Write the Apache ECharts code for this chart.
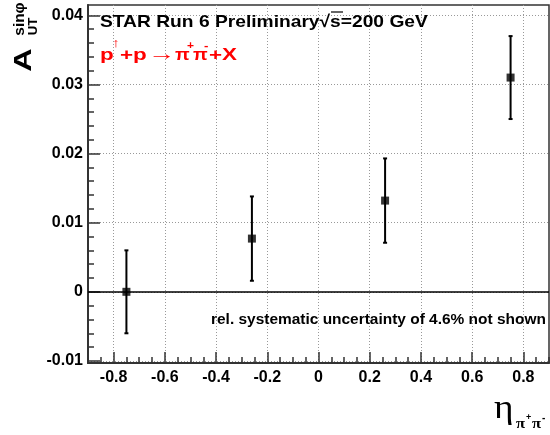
<!DOCTYPE html>
<html><head><meta charset="utf-8">
<script src="https://cdn.jsdelivr.net/npm/echarts@6/dist/echarts.min.js"></script>
<style>html,body{margin:0;padding:0;background:#fff}#c{width:550px;height:435px}</style>
</head><body><div id="c"></div>
<script>
// ---- data ----
const etaValues = [-0.75, -0.26, 0.26, 0.75];
const asymValues = [0.0, 0.0077, 0.0132, 0.0310];
const asymErrors = [0.0060, 0.0061, 0.0061, 0.0060];
const xMajorTicks = [-0.8, -0.6, -0.4, -0.2, 0, 0.2, 0.4, 0.6, 0.8];
const yMajorTicks = [-0.01, 0, 0.01, 0.02, 0.03, 0.04];
const yMinorTicks = [-0.01, -0.008, -0.006, -0.004, -0.002, 0, 0.002, 0.004, 0.006, 0.008,
  0.01, 0.012, 0.014, 0.016, 0.018, 0.02, 0.022, 0.024, 0.026, 0.028,
  0.03, 0.032, 0.034, 0.036, 0.038, 0.04];
const xRange = [-0.9, 0.9];
const yRange = [-0.0103, 0.0415];
const titleText = 'STAR Run 6 Preliminary\u221As=200 GeV';
const noteText = 'rel. systematic uncertainty of 4.6% not shown';

const FONT = '"Liberation Sans", Arial, sans-serif';
const SERIF = '"Liberation Serif", "DejaVu Serif", serif';
const frameColor = '#333';

const chart = echarts.init(document.getElementById('c'), null, {renderer: 'canvas'});

function renderErrorBar(params, api) {
  const x = api.value(0), lo = api.value(1), hi = api.value(2);
  const p1 = api.coord([x, hi]), p2 = api.coord([x, lo]);
  const cap = 2;
  const style = {stroke: '#000', lineWidth: 2};
  return {type: 'group', children: [
    {type: 'line', shape: {x1: p1[0], y1: p1[1], x2: p2[0], y2: p2[1]}, style: style},
    {type: 'line', shape: {x1: p1[0] - cap, y1: p1[1], x2: p1[0] + cap, y2: p1[1]}, style: style},
    {type: 'line', shape: {x1: p2[0] - cap, y1: p2[1], x2: p2[0] + cap, y2: p2[1]}, style: style}
  ]};
}

const labelStyle = {fontFamily: FONT, fontWeight: 'bold', fontSize: 16, color: '#000'};

function txt(text, x, y, size, opts) {
  opts = opts || {};
  return {
    type: 'text', x: x, y: y, scaleX: opts.sx || 1, z: 100,
    style: {
      text: text, fill: opts.color || '#000',
      fontFamily: opts.family || FONT, fontWeight: opts.weight || 'bold', fontSize: size,
      align: opts.align || 'left', verticalAlign: 'middle'
    }
  };
}

const red = {color: '#ff0000', sx: 1.4};
const redSup = {color: '#ff0000', sx: 1.2};

const option = {
  animation: false,
  backgroundColor: '#fff',
  grid: {left: 88, right: 1, top: 5, bottom: 72, show: true, borderColor: frameColor,
    borderWidth: 1.5, containLabel: false, outerBoundsMode: 'none'},
  xAxis: [
    {type: 'value', min: xRange[0], max: xRange[1], interval: 0.05, position: 'bottom',
      axisLine: {show: true, onZero: false, lineStyle: {color: frameColor, width: 2}},
      axisTick: {show: true, inside: true, length: 6, lineStyle: {color: frameColor, width: 1.5}},
      axisLabel: {show: false}, splitLine: {show: false}},
    {type: 'value', min: xRange[0], max: xRange[1], interval: 0.05, position: 'bottom',
      axisLine: {show: false, onZero: false},
      axisTick: {show: true, inside: true, length: 11, customValues: xMajorTicks,
        lineStyle: {color: frameColor, width: 1.5}},
      axisLabel: Object.assign({show: true, margin: 7, customValues: xMajorTicks}, labelStyle),
      splitLine: {show: true, lineStyle: {color: '#999', width: 1, type: [1, 2]}}}
  ],
  yAxis: [
    {type: 'value', min: yRange[0], max: yRange[1], position: 'left',
      axisLine: {show: true, onZero: false, lineStyle: {color: frameColor, width: 2}},
      axisTick: {show: true, inside: true, length: 6, customValues: yMinorTicks,
        lineStyle: {color: frameColor, width: 1.5}},
      axisLabel: {show: false}, splitLine: {show: false}},
    {type: 'value', min: yRange[0], max: yRange[1], position: 'left',
      axisLine: {show: false, onZero: false},
      axisTick: {show: true, inside: true, length: 12, customValues: yMajorTicks,
        lineStyle: {color: frameColor, width: 1.5}},
      axisLabel: Object.assign({show: true, margin: 5, customValues: yMajorTicks}, labelStyle),
      splitLine: {show: true, lineStyle: {color: '#999', width: 1, type: [1, 2]}}}
  ],
  series: [
    {type: 'custom', xAxisIndex: 0, yAxisIndex: 0, renderItem: renderErrorBar, z: 5,
      encode: {x: 0, y: [1, 2]},
      data: etaValues.map((x, i) => [x, asymValues[i] - asymErrors[i], asymValues[i] + asymErrors[i]])},
    {type: 'scatter', xAxisIndex: 0, yAxisIndex: 0, symbol: 'rect', symbolSize: 8, z: 6,
      itemStyle: {color: '#000'},
      data: etaValues.map((x, i) => [x, asymValues[i]]),
      markLine: {silent: true, symbol: 'none', label: {show: false},
        lineStyle: {color: '#000', width: 1.5, type: 'solid'},
        data: [{yAxis: 0}]}}
  ],
  graphic: [
    txt(titleText, 100, 22, 17, {sx: 1.13}),
    {type: 'line', z: 100, shape: {x1: 331, y1: 12, x2: 343, y2: 12}, style: {stroke: '#000', lineWidth: 1.2}},
    // red reaction text
    txt('p', 100, 56, 16, red),
    txt('\u2191', 112, 43, 13, redSup),
    txt('+p', 120, 56, 16, red),
    txt('\u2192', 148, 55, 19, {color: '#ff0000', weight: 'normal', sx: 1.45}),
    txt('\u03C0', 175, 56, 16, {color: '#ff0000', sx: 1.2}),
    txt('+', 187, 46, 10, redSup),
    txt('\u03C0', 193, 56, 16, {color: '#ff0000', sx: 1.2}),
    txt('-', 204, 46, 11, redSup),
    txt('+X', 209, 56, 16, red),
    // note
    txt(noteText, 211, 320, 15, {sx: 1.03}),
    // y-axis title (rotated)
    {type: 'group', x: 0, y: 0, rotation: Math.PI / 2, children: [
      {type: 'text', x: -60, y: 24.5, scaleX: 1.35,
        style: {text: 'A', fontFamily: FONT, fontWeight: 'bold', fontSize: 24, fill: '#000',
          align: 'center', verticalAlign: 'middle'}},
      {type: 'text', x: -19, y: 20.5, scaleX: 1.1,
        style: {text: 'sin\u03C6', fontFamily: FONT, fontWeight: 'bold', fontSize: 14, fill: '#000',
          align: 'center', verticalAlign: 'middle'}},
      {type: 'text', x: -26.5, y: 33.5, scaleX: 1.1,
        style: {text: 'UT', fontFamily: FONT, fontWeight: 'bold', fontSize: 12, fill: '#000',
          align: 'center', verticalAlign: 'middle'}}
    ]},
    // x-axis title
    txt('\u03B7', 494, 409, 34, {family: SERIF, weight: 'normal', sx: 1.1}),
    txt('\u03C0', 516, 424, 15, {family: SERIF, weight: 'bold', sx: 1.1}),
    txt('+', 526, 418, 9, {weight: 'bold'}),
    txt('\u03C0', 532, 424, 15, {family: SERIF, weight: 'bold', sx: 1.1}),
    txt('-', 542, 418, 10, {weight: 'bold'})
  ]
};
chart.setOption(option);
</script>
</body></html>
